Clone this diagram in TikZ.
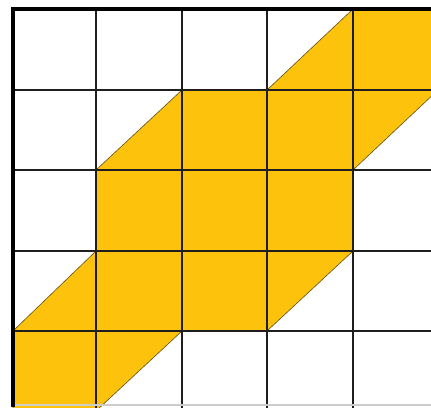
\documentclass[tikz,border=0pt]{standalone}
\definecolor{fillyellow}{RGB}{252,194,12}
\definecolor{gridline}{RGB}{30,30,30}
\tikzset{
  cellline/.style={draw=gridline, line width=1.8pt},
  outerline/.style={draw=black, line width=3.8pt},
  shapefill/.style={fill=fillyellow, draw=gridline!70!fillyellow, line width=0.6pt}
}
\begin{document}
\begin{tikzpicture}[x=1pt,y=-1pt]
\useasboundingbox (0,0) rectangle (431,407);
\fill[white] (0,0) rectangle (431,407);
\begin{scope}
\clip (0,0) rectangle (431,407);
% yellow shape
\path[shapefill] (13,411) -- (96,411) -- (182,331) -- (267,331) -- (353,251) -- (353,170)
  -- (438,90) -- (438,9) -- (353,9) -- (267,90) -- (182,90) -- (96,170) -- (96,251)
  -- (13,331) -- cycle;
% inner grid lines
\foreach \x in {96,182,267,353} \draw[cellline] (\x,9) -- (\x,411);
\foreach \y in {90,170,251,331} \draw[cellline] (13,\y) -- (438,\y);
\draw[draw=gray!40, line width=1.5pt] (13,405) -- (431,405);
% outer border
\draw[outerline] (13,407) -- (13,9) -- (431,9);
\end{scope}
\end{tikzpicture}
\end{document}
